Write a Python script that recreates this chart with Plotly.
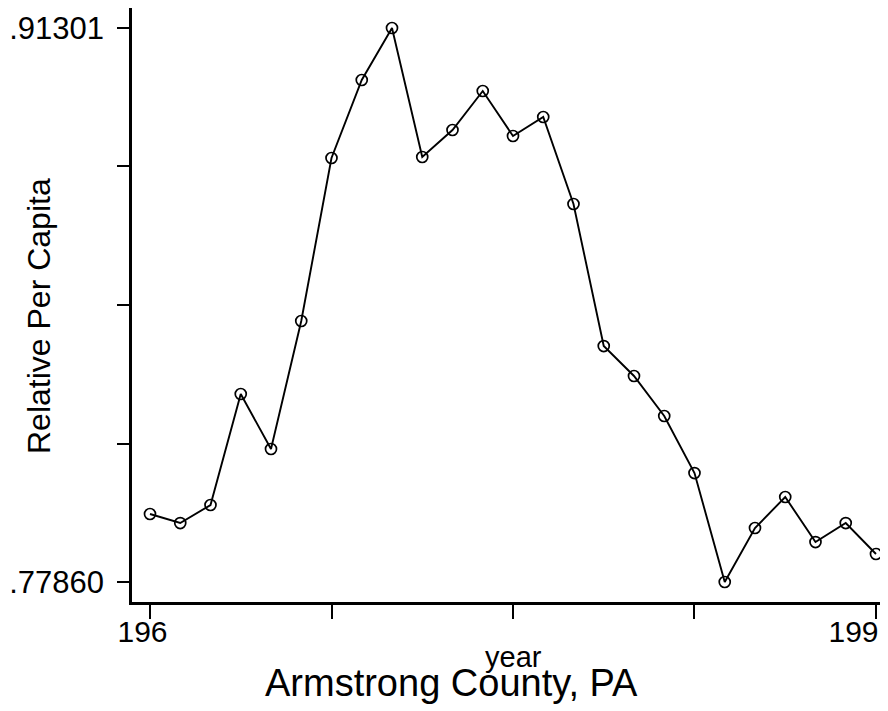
import plotly.graph_objects as go

years = list(range(1966, 1991))
values = [0.79510, 0.79291, 0.79728, 0.82421, 0.81087, 0.84192, 0.88147, 0.90039,
          0.91301, 0.88171, 0.88826, 0.89772, 0.88680, 0.89141, 0.87031, 0.83585,
          0.82858, 0.81887, 0.80504, 0.77860, 0.79170, 0.79922, 0.78830, 0.79291,
          0.78539]

x_tickvals = [1966, 1972, 1978, 1984, 1990]
x_ticktext = ["196", "", "", "", "199"]
y_tickvals = [0.77860, 0.81220, 0.84581, 0.87941, 0.91301]
y_ticktext = [".77860", "", "", "", ".91301"]

font = "Liberation Sans, Arial, sans-serif"

# page body has an 8px margin; work in figure coordinates = screen - 8
OFF = 8
FW, FH = 888 - OFF, 711 - OFF
L, T, R, B = 132 - OFF, 8 - OFF, 888 - OFF, 602 - OFF
W, H = R - L, B - T

def px_x(p):
    return (p - OFF - L) / W

def px_y(p):
    return (B - (p - OFF)) / H

# pad labels so they sit as in the reference (first slightly left, last right-aligned)
pad = {0: "\u2002", 4: "\u2002\u2002\u2002"}
x_ticktext_shown = [t + pad.get(i, "") if t else t for i, t in enumerate(x_ticktext)]

fig = go.Figure()
fig.add_trace(go.Scatter(
    x=years, y=values, mode="lines+markers",
    line=dict(color="black", width=1.9),
    marker=dict(symbol="circle-open", size=11, color="black", line=dict(width=1.7)),
    showlegend=False, cliponaxis=False,
))

fig.update_layout(
    width=FW, height=FH,
    margin=dict(l=L, r=FW - R, t=T, b=FH - B, autoexpand=False),
    paper_bgcolor="white", plot_bgcolor="white",
    font=dict(family=font, color="black"),
    xaxis=dict(
        range=[1965.405, 1990.397], showgrid=False, zeroline=False, automargin=False,
        showline=True, linecolor="black", linewidth=2.5,
        ticks="outside", ticklen=14, tickwidth=2, tickcolor="black",
        tickvals=x_tickvals, ticktext=x_ticktext_shown,
        tickfont=dict(size=30, family=font), ticklabeloverflow="allow",
        ticklabelstandoff=-13,
    ),
    yaxis=dict(
        range=[0.77375, 0.91786], showgrid=False, zeroline=False, automargin=False,
        showline=True, linecolor="black", linewidth=2.5,
        ticks="outside", ticklen=12, tickwidth=2, tickcolor="black",
        tickvals=y_tickvals, ticktext=y_ticktext,
        tickfont=dict(size=31, family=font), ticklabelstandoff=7,
        ticklabeloverflow="allow",
    ),
    annotations=[
        dict(text="year", xref="paper", yref="paper",
             x=px_x(513), y=px_y(675), xanchor="center", yanchor="bottom",
             showarrow=False, font=dict(size=29, family=font, color="black")),
        dict(text="Relative Per Capita", xref="paper", yref="paper",
             x=px_x(39), y=px_y(316), xanchor="center", yanchor="middle",
             textangle=-90, showarrow=False,
             font=dict(size=32, family=font, color="black")),
        dict(text="Armstrong County, PA", xref="paper", yref="paper",
             x=px_x(451), y=px_y(706), xanchor="center", yanchor="bottom",
             showarrow=False, font=dict(size=38, family=font, color="black")),
    ],
)

fig.write_html("out.html")
